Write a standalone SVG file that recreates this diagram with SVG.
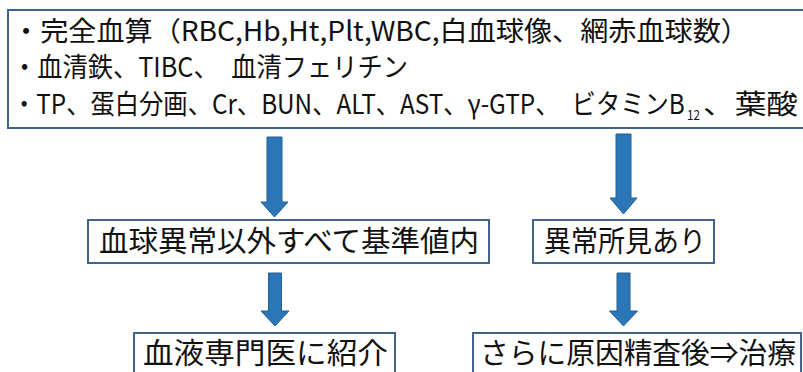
<svg xmlns="http://www.w3.org/2000/svg" width="803" height="372" viewBox="0 0 803 372">
<style>
.box{fill:#ffffff;stroke:#41648C;stroke-width:2}
.arr{fill:#2A76B6;stroke:#23608F;stroke-width:1}
.t{font-family:"Noto Sans CJK JP","Noto Sans",sans-serif;fill:#111111}
.l{font-size:27px}
.m{font-size:29px}
.s{font-size:14px}
</style>
<rect width="803" height="372" fill="#ffffff"/>
<g id="top">
<rect class="box" x="8" y="10" width="810" height="118"/>
<text class="t l" x="12" y="41" textLength="737" lengthAdjust="spacingAndGlyphs">・完全血算（RBC,Hb,Ht,Plt,WBC,白血球像、網赤血球数）</text>
<text class="t l" x="12" y="77" textLength="396" lengthAdjust="spacingAndGlyphs">・血清鉄、TIBC、　血清フェリチン</text>
<text class="t l" transform="translate(12,114) scale(0.9,1)" x="0" y="0">・TP、蛋白分画、Cr、BUN、ALT、AST、γ-GTP、　ビタミンB</text>
<text class="t s" x="687" y="120" textLength="13" lengthAdjust="spacingAndGlyphs">12</text>
<text class="t l" x="703" y="114" textLength="95" lengthAdjust="spacingAndGlyphs">、葉酸</text>
</g>
<g id="normal">
<rect class="box" x="88" y="220" width="401" height="43"/>
<text class="t m" x="99" y="252" textLength="380" lengthAdjust="spacingAndGlyphs">血球異常以外すべて基準値内</text>
</g>
<g id="abnormal">
<rect class="box" x="533" y="220" width="181" height="43"/>
<text class="t m" x="544" y="252" textLength="162" lengthAdjust="spacingAndGlyphs">異常所見あり</text>
</g>
<g id="refer">
<rect class="box" x="134" y="333" width="261" height="60"/>
<text class="t m" x="143" y="364" textLength="245" lengthAdjust="spacingAndGlyphs">血液専門医に紹介</text>
</g>
<g id="treat">
<rect class="box" x="473" y="333" width="328" height="60"/>
<text class="t m" x="480" y="364" textLength="316" lengthAdjust="spacingAndGlyphs">さらに原因精査後⇒治療</text>
</g>
<g id="connectors">
<path class="arr" d="M267,137 H282 V202 H288 L274.5,217 L261,202 H267 Z"/>
<path class="arr" d="M616,134 H631 V198 H637 L623.5,214 L610,198 H616 Z"/>
<path class="arr" d="M268.5,273 H281.5 V311 H289 L275,326 L261,311 H268.5 Z"/>
<path class="arr" d="M617,273 H630 V311 H637.5 L623.5,326 L609.5,311 H617 Z"/>
</g>
</svg>
